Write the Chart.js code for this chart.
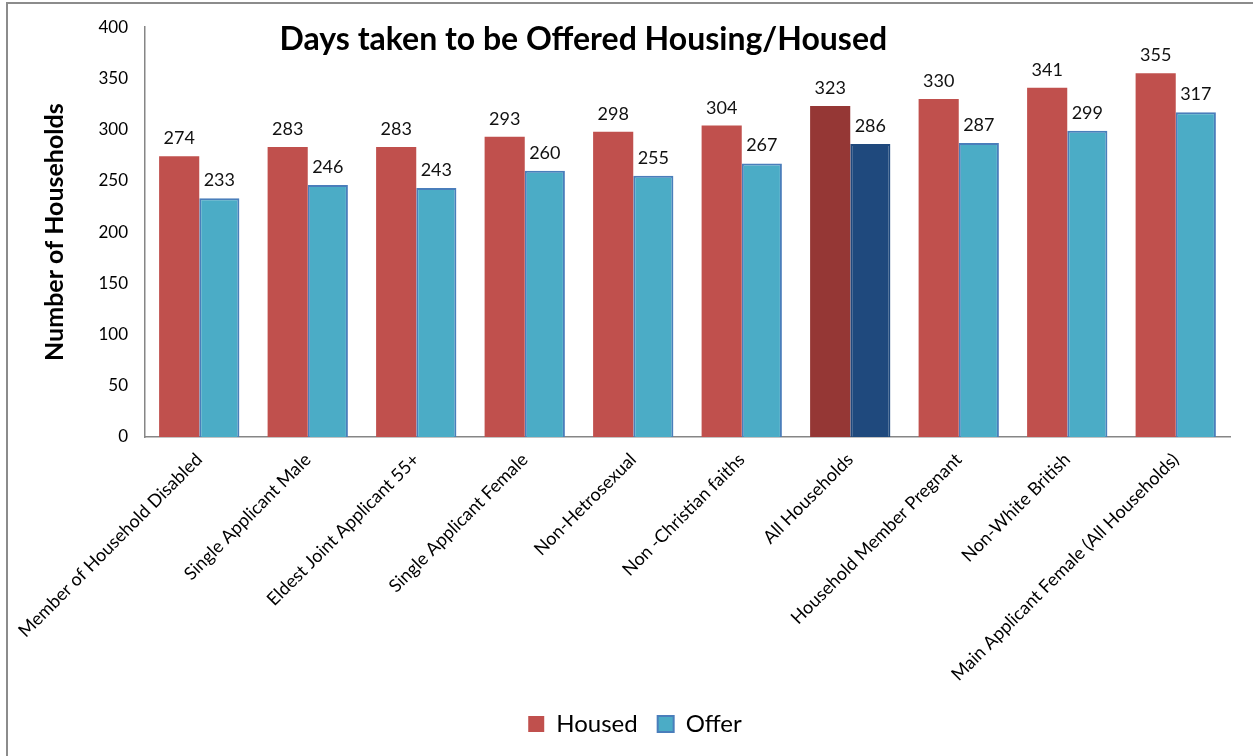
<!DOCTYPE html>
<html>
<head>
<meta charset="utf-8">
<script src="https://cdn.jsdelivr.net/npm/chart.js@4.4.1/dist/chart.umd.min.js"></script>
<style>
    html, body { margin: 0; padding: 0; background: #fff; }
    #wrap { position: relative; width: 1253px; height: 756px; }
    #frame { position: absolute; left: 6px; top: 2px; right: 0; bottom: 0; border-top: 2px solid #8c8c8c; border-left: 2px solid #8c8c8c; pointer-events: none; }
</style>
</head>
<body>
<div id="wrap">
    <canvas id="diasChart" width="1253" height="756"></canvas>
    <div id="frame"></div>
</div>
<script>
// datos
var categorias = [
    'Member of Household Disabled',
    'Single Applicant Male',
    'Eldest Joint Applicant 55+',
    'Single Applicant Female',
    'Non-Hetrosexual',
    'Non -Christian faiths',
    'All Households',
    'Household Member Pregnant',
    'Non-White British',
    'Main Applicant Female (All Households)'
];
var housed = [274, 283, 283, 293, 298, 304, 323, 330, 341, 355];
var offer = [233, 246, 243, 260, 255, 267, 286, 287, 299, 317];
var yTicks = [0, 50, 100, 150, 200, 250, 300, 350, 400];

var FONT = 'Lato, "Open Sans", sans-serif';
var destacada = 'All Households';
var ejeY0 = 437; // donde queda el eje x en el original

var coloresHoused = categorias.map(function (c) { return c === destacada ? '#953735' : '#C0504D'; });
var coloresOffer = categorias.map(function (c) { return c === destacada ? '#1F497D' : '#4BACC6'; });
var bordesOffer = categorias.map(function (c) { return c === destacada ? '#1F497D' : '#4A7EBB'; });

// etiquetas con el valor encima de cada barra
var etiquetasPlugin = {
    id: 'etiquetas',
    afterDatasetsDraw: function (chart) {
        var ctx = chart.ctx;
        ctx.save();
        ctx.font = '18px ' + FONT;
        ctx.fillStyle = '#111';
        ctx.textAlign = 'center';
        ctx.textBaseline = 'alphabetic';
        chart.data.datasets.forEach(function (ds, i) {
            chart.getDatasetMeta(i).data.forEach(function (bar, j) {
                ctx.fillText(ds.data[j], bar.x, bar.y - 12);
            });
        });
        ctx.restore();
    }
};

// titulo dentro del area del grafico
var tituloPlugin = {
    id: 'tituloDentro',
    afterDraw: function (chart) {
        var ctx = chart.ctx;
        var area = chart.chartArea;
        ctx.save();
        ctx.font = 'bold 32px ' + FONT;
        ctx.fillStyle = '#000';
        ctx.textAlign = 'center';
        ctx.textBaseline = 'middle';
        ctx.fillText('Days taken to be Offered Housing/Housed', area.left + (area.right - area.left) * 0.404, area.top + 12);
        ctx.restore();
    }
};

var ctx = document.getElementById('diasChart').getContext('2d');
var diasChart = new Chart(ctx, {
    type: 'bar',
    data: {
        labels: categorias,
        datasets: [{
            label: 'Housed',
            data: housed,
            backgroundColor: coloresHoused,
            borderWidth: 0
        }, {
            label: 'Offer',
            data: offer,
            backgroundColor: coloresOffer,
            borderColor: bordesOffer,
            borderWidth: 2
        }]
    },
    options: {
        responsive: false,
        animation: false,
        layout: {
            padding: { left: 40, top: 24, right: 23, bottom: 10 }
        },
        datasets: {
            bar: { categoryPercentage: 0.74, barPercentage: 1.0 }
        },
        scales: {
            x: {
                afterFit: function (scale) {
                    var leyenda = scale.chart.legend ? scale.chart.legend.height : 50;
                    scale.height = 756 - 10 - leyenda - ejeY0;
                },
                grid: { display: false, drawTicks: false },
                border: { color: '#868686', width: 1.5 },
                ticks: {
                    color: '#000',
                    font: { family: FONT, size: 18 },
                    minRotation: 45,
                    maxRotation: 45,
                    autoSkip: false,
                    padding: 12
                }
            },
            y: {
                min: 0,
                max: 400,
                afterBuildTicks: function (scale) {
                    scale.ticks = yTicks.map(function (v) { return { value: v }; });
                },
                afterFit: function (scale) { scale.width = 105; },
                grid: { display: false, drawTicks: false },
                border: { color: '#868686', width: 1.5 },
                ticks: {
                    color: '#000',
                    font: { family: FONT, size: 17 },
                    padding: 17
                },
                title: {
                    display: true,
                    text: 'Number of Households',
                    color: '#000',
                    font: { family: FONT, size: 25, weight: 'bold' },
                    padding: 0
                }
            }
        },
        plugins: {
            legend: {
                position: 'bottom',
                labels: {
                    color: '#000',
                    font: { family: FONT, size: 24 },
                    boxWidth: 16,
                    boxHeight: 16,
                    padding: 20,
                    generateLabels: function (chart) {
                        return [
                            { text: 'Housed', fillStyle: '#C0504D', strokeStyle: '#C0504D', lineWidth: 0, datasetIndex: 0 },
                            { text: 'Offer', fillStyle: '#4BACC6', strokeStyle: '#4A7EBB', lineWidth: 2, datasetIndex: 1 }
                        ];
                    }
                }
            },
            tooltip: { enabled: false }
        }
    },
    plugins: [etiquetasPlugin, tituloPlugin]
});
</script>
</body>
</html>
